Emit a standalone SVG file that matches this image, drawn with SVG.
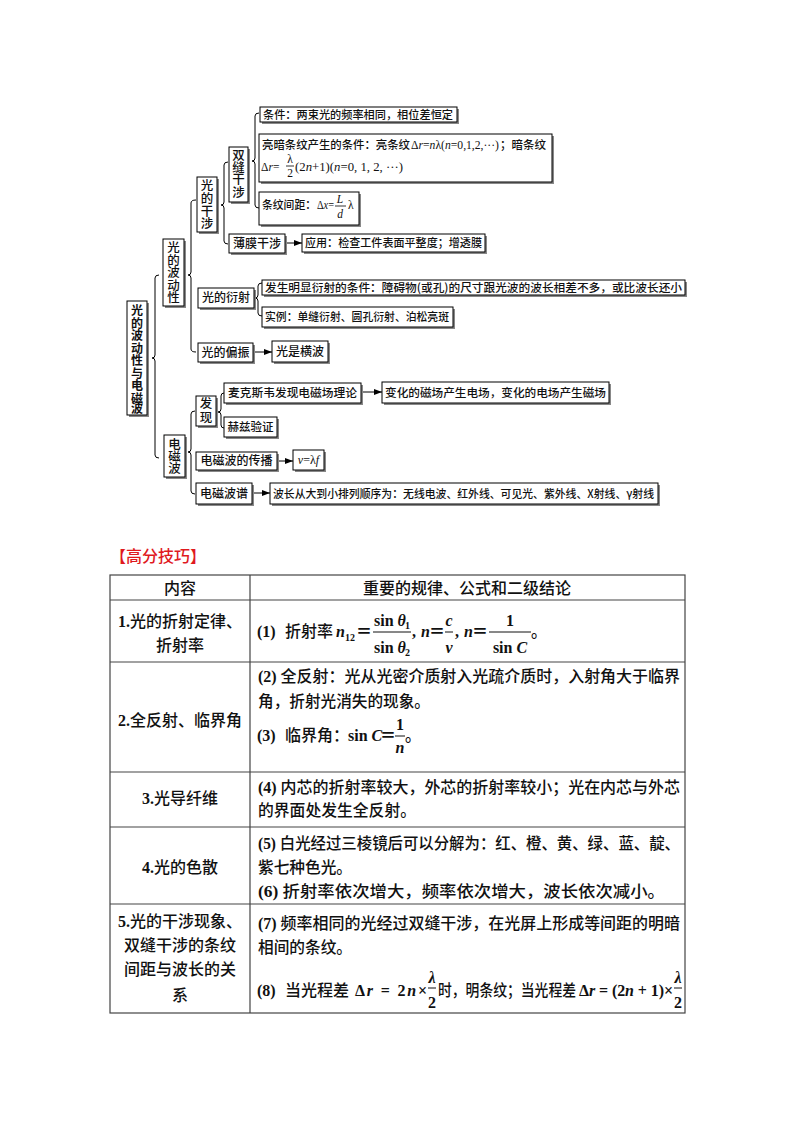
<svg xmlns="http://www.w3.org/2000/svg" width="794" height="1122" viewBox="0 0 794 1122">
<defs>
<marker id="ah" viewBox="0 0 8 6" refX="8" refY="3" markerWidth="8" markerHeight="6" markerUnits="userSpaceOnUse" orient="auto"><path d="M0,0 L8,3 L0,6 Z" fill="#000"/></marker>
</defs>
<style>
.bx{fill:#fff;stroke:#000;stroke-width:1}
.sh{fill:#888}
.tt{font-family:"Noto Sans CJK SC","Liberation Serif",sans-serif;font-size:11.5px;fill:#111;font-weight:500}
.vt{font-family:"Noto Sans CJK SC",sans-serif;font-size:12.5px;fill:#111;text-anchor:middle;font-weight:500}
.m{font-family:"Liberation Serif","Noto Sans CJK SC",serif}
.it{font-style:italic}
.br{fill:none;stroke:#000;stroke-width:1}
.ar{stroke:#000;stroke-width:1;marker-end:url(#ah)}
.fl{stroke:#000;stroke-width:0.8}
.tb{fill:none;stroke:#444;stroke-width:1.2}
.tx{font-family:"Liberation Serif","Noto Sans CJK SC",serif;font-size:16px;fill:#111;font-weight:500}
.b{font-weight:bold}
.c{text-anchor:middle}
.fb{stroke:#111;stroke-width:1}
</style>
<rect width="794" height="1122" fill="#fff"/>

<g id="connectors">
<path class="br" d="M159 275 Q155 275 155 278 L155 355 Q155 358 152 358 Q155 358 155 361 L155 455 Q155 458 159 458"/>
<path class="br" d="M196 200 Q191 200 191 203 L191 272 Q191 275 188 275 Q191 275 191 278 L191 349 Q191 352 196 352"/>
<path class="br" d="M228 162 Q224 162 224 165 L224 202 Q224 205 221 205 Q224 205 224 208 L224 241 Q224 244 228 244"/>
<path class="br" d="M259 113 Q255 113 255 116 L255 158 Q255 161 252 161 Q255 161 255 164 L255 205 Q255 208 259 208"/>
<path class="br" d="M262 283 Q258 283 258 286 L258 295 Q258 298 255 298 Q258 298 258 301 L258 313 Q258 316 262 316"/>
<path class="br" d="M195 411 Q191 411 191 414 L191 449 Q191 452 188 452 Q191 452 191 455 L191 491 Q191 494 195 494"/>
<path class="br" d="M224 393 Q221 393 221 396 L221 409 Q221 412 218 412 Q221 412 221 415 L221 425 Q221 428 224 428"/>
<line class="ar" x1="285" y1="243" x2="302" y2="243"/>
<line class="ar" x1="253" y1="352" x2="272" y2="352"/>
<line class="ar" x1="361" y1="392" x2="382" y2="392"/>
<line class="ar" x1="277" y1="461" x2="293" y2="461"/>
<line class="ar" x1="252" y1="493" x2="270" y2="493"/>
</g>

<g id="root">
<rect class="sh" x="129" y="303" width="20" height="114"/><rect class="bx" x="127" y="301" width="20" height="114"/>
<text class="vt" style="font-weight:bold;font-size:12px"><tspan x="137" y="315">光</tspan><tspan x="137" y="327.5">的</tspan><tspan x="137" y="340">波</tspan><tspan x="137" y="352.5">动</tspan><tspan x="137" y="365">性</tspan><tspan x="137" y="377.5">与</tspan><tspan x="137" y="390">电</tspan><tspan x="137" y="402.5">磁</tspan><tspan x="137" y="415" dy="-2">波</tspan></text>
</g>

<g id="n-bodong">
<rect class="sh" x="165" y="241" width="21" height="67"/><rect class="bx" x="163" y="239" width="21" height="67"/>
<text class="vt"><tspan x="173.5" y="252">光</tspan><tspan x="173.5" y="264.5">的</tspan><tspan x="173.5" y="277">波</tspan><tspan x="173.5" y="289.5">动</tspan><tspan x="173.5" y="302">性</tspan></text>
</g>

<g id="n-ganshe">
<rect class="sh" x="199" y="179" width="20" height="55"/><rect class="bx" x="197" y="177" width="20" height="55"/>
<text class="vt"><tspan x="207" y="190">光</tspan><tspan x="207" y="203">的</tspan><tspan x="207" y="215.5">干</tspan><tspan x="207" y="228">涉</tspan></text>
</g>

<g id="n-shuangfeng">
<rect class="sh" x="231" y="149" width="19" height="55"/><rect class="bx" x="229" y="147" width="19" height="55"/>
<text class="vt"><tspan x="238.5" y="160">双</tspan><tspan x="238.5" y="172">缝</tspan><tspan x="238.5" y="184">干</tspan><tspan x="238.5" y="196.5">涉</tspan></text>
</g>

<g id="n-tiaojian">
<rect class="sh" x="262" y="109" width="197" height="15"/><rect class="bx" x="260" y="107" width="197" height="15"/>
<text class="tt" x="263" y="118.5" textLength="190" lengthAdjust="spacingAndGlyphs">条件：两束光的频率相同，相位差恒定</text>
</g>

<g id="n-liangan">
<rect class="sh" x="261" y="136" width="293" height="48"/><rect class="bx" x="259" y="134" width="293" height="48"/>
<text class="tt" x="262" y="149" textLength="148" lengthAdjust="spacingAndGlyphs">亮暗条纹产生的条件：亮条纹</text>
<text class="tt m" x="411" y="149" textLength="88" lengthAdjust="spacingAndGlyphs">Δ<tspan class="it">r</tspan>=<tspan class="it">n</tspan>λ(<tspan class="it">n</tspan>=0,1,2,···)</text>
<text class="tt" x="500" y="149" textLength="46" lengthAdjust="spacingAndGlyphs">；暗条纹</text>
<text class="tt m" x="261" y="171">Δ<tspan class="it">r</tspan>=</text>
<text class="tt m c" x="290" y="163">λ</text>
<line class="fl" x1="286" y1="166" x2="294" y2="166"/>
<text class="tt m c" x="290" y="177">2</text>
<text class="tt m" x="295" y="171" textLength="108" lengthAdjust="spacingAndGlyphs">(2<tspan class="it">n</tspan>+1)(<tspan class="it">n</tspan>=0, 1, 2, ···)</text>
</g>

<g id="n-jianju">
<rect class="sh" x="261" y="194" width="100" height="33"/><rect class="bx" x="259" y="192" width="100" height="33"/>
<text class="tt" x="262" y="209" textLength="54" lengthAdjust="spacingAndGlyphs">条纹间距：</text>
<text class="tt m" x="317" y="209" textLength="17" lengthAdjust="spacingAndGlyphs">Δ<tspan class="it">x</tspan>=</text>
<text class="tt m it c" x="340" y="203">L</text>
<line class="fl" x1="335" y1="206" x2="346" y2="206"/>
<text class="tt m it c" x="340" y="218">d</text>
<text class="tt m" x="348" y="209">λ</text>
</g>

<g id="n-bomo">
<rect class="sh" x="231" y="236" width="56" height="19"/><rect class="bx" x="229" y="234" width="56" height="19"/>
<text class="tt c" x="257" y="247.5" style="font-size:12px">薄膜干涉</text>
</g>

<g id="n-yingyong">
<rect class="sh" x="304" y="236" width="183" height="18"/><rect class="bx" x="302" y="234" width="183" height="18"/>
<text class="tt" x="305" y="247" textLength="177" lengthAdjust="spacingAndGlyphs">应用：检查工件表面平整度；增透膜</text>
</g>

<g id="n-yanshe">
<rect class="sh" x="200" y="290" width="56" height="20"/><rect class="bx" x="198" y="288" width="56" height="20"/>
<text class="tt c" x="226" y="302" style="font-size:12px">光的衍射</text>
</g>

<g id="n-yanshetiaojian">
<rect class="sh" x="264" y="282" width="423" height="15"/><rect class="bx" x="262" y="280" width="423" height="15"/>
<text class="tt" x="265" y="291.5" textLength="417" lengthAdjust="spacingAndGlyphs">发生明显衍射的条件：障碍物(或孔)的尺寸跟光波的波长相差不多，或比波长还小</text>
</g>

<g id="n-shili">
<rect class="sh" x="264" y="309" width="191" height="20"/><rect class="bx" x="262" y="307" width="191" height="20"/>
<text class="tt" x="265" y="321" textLength="184" lengthAdjust="spacingAndGlyphs">实例：单缝衍射、圆孔衍射、泊松亮斑</text>
</g>

<g id="n-pianzhen">
<rect class="sh" x="200" y="345" width="55" height="19"/><rect class="bx" x="198" y="343" width="55" height="19"/>
<text class="tt c" x="225.5" y="356.5" style="font-size:12px">光的偏振</text>
</g>

<g id="n-hengbo">
<rect class="sh" x="274" y="343" width="56" height="21"/><rect class="bx" x="272" y="341" width="56" height="21"/>
<text class="tt c" x="300" y="355.5" style="font-size:12px">光是横波</text>
</g>

<g id="n-diancibo">
<rect class="sh" x="166" y="437" width="21" height="42"/><rect class="bx" x="164" y="435" width="21" height="42"/>
<text class="vt"><tspan x="174.5" y="449">电</tspan><tspan x="174.5" y="461">磁</tspan><tspan x="174.5" y="473">波</tspan></text>
</g>

<g id="n-faxian">
<rect class="sh" x="198" y="398" width="20" height="30"/><rect class="bx" x="196" y="396" width="20" height="30"/>
<text class="vt"><tspan x="206" y="408">发</tspan><tspan x="206" y="421.5">现</tspan></text>
</g>

<g id="n-maikesi">
<rect class="sh" x="226" y="385" width="137" height="20"/><rect class="bx" x="224" y="383" width="137" height="20"/>
<text class="tt" x="228" y="397" textLength="129" lengthAdjust="spacingAndGlyphs">麦克斯韦发现电磁场理论</text>
</g>

<g id="n-bianhua">
<rect class="sh" x="384" y="384" width="227" height="21"/><rect class="bx" x="382" y="382" width="227" height="21"/>
<text class="tt" x="385" y="396.5" textLength="221" lengthAdjust="spacingAndGlyphs">变化的磁场产生电场，变化的电场产生磁场</text>
</g>

<g id="n-hezi">
<rect class="sh" x="226" y="419" width="53" height="20"/><rect class="bx" x="224" y="417" width="53" height="20"/>
<text class="tt c" x="250.5" y="431">赫兹验证</text>
</g>

<g id="n-chuanbo">
<rect class="sh" x="198" y="454" width="81" height="18"/><rect class="bx" x="196" y="452" width="81" height="18"/>
<text class="tt c" x="236.5" y="465" style="font-size:12px">电磁波的传播</text>
</g>

<g id="n-vlf">
<rect class="sh" x="295" y="452" width="31" height="20"/><rect class="bx" x="293" y="450" width="31" height="20"/>
<text class="tt m c" x="308.5" y="464" style="font-size:12px"><tspan class="it">v</tspan>=λ<tspan class="it">f</tspan></text>
</g>

<g id="n-pu">
<rect class="sh" x="198" y="485" width="56" height="21"/><rect class="bx" x="196" y="483" width="56" height="21"/>
<text class="tt c" x="224" y="497.5" style="font-size:12px">电磁波谱</text>
</g>

<g id="n-bochang">
<rect class="sh" x="272" y="485" width="388" height="21"/><rect class="bx" x="270" y="483" width="388" height="21"/>
<text class="tt" x="273" y="497.5" textLength="381" lengthAdjust="spacingAndGlyphs">波长从大到小排列顺序为：无线电波、红外线、可见光、紫外线、X射线、γ射线</text>
</g>

<g id="table">
<text x="110" y="562" style="font-family:'Noto Sans CJK SC',sans-serif;font-size:16px;fill:#e0191e;font-weight:500">【高分技巧】</text>
<rect class="tb" x="110" y="575" width="575" height="438"/>
<line class="tb" x1="250" y1="575" x2="250" y2="1013"/>
<line class="tb" x1="110" y1="600" x2="685" y2="600"/>
<line class="tb" x1="110" y1="662" x2="685" y2="662"/>
<line class="tb" x1="110" y1="772" x2="685" y2="772"/>
<line class="tb" x1="110" y1="827" x2="685" y2="827"/>
<line class="tb" x1="110" y1="904" x2="685" y2="904"/>

<text class="tx c" x="180" y="594">内容</text>
<text class="tx c" x="467" y="594">重要的规律、公式和二级结论</text>

<text class="tx c" x="180" y="627"><tspan class="b">1.</tspan>光的折射定律、</text>
<text class="tx c" x="180" y="651">折射率</text>
<text class="tx b" x="257" y="637">(1)</text>
<text class="tx" x="285" y="637">折射率</text>
<text class="tx b it" x="336" y="637">n</text>
<text class="tx b" x="345" y="641" style="font-size:10px">12</text>
<text class="tx b" x="356" y="637">＝</text>
<text class="tx b" x="374" y="626">sin <tspan class="it">θ</tspan></text>
<text class="tx b" x="405" y="629" style="font-size:10px">1</text>
<line class="fb" x1="373" y1="632" x2="411" y2="632"/>
<text class="tx b" x="374" y="653">sin <tspan class="it">θ</tspan></text>
<text class="tx b" x="405" y="656" style="font-size:10px">2</text>
<text class="tx b" x="412" y="637">,</text>
<text class="tx b it" x="421" y="637">n</text>
<text class="tx b" x="429" y="637">＝</text>
<text class="tx b it c" x="449" y="626">c</text>
<line class="fb" x1="445" y1="632" x2="453" y2="632"/>
<text class="tx b it c" x="449" y="653">v</text>
<text class="tx b" x="455" y="637">,</text>
<text class="tx b it" x="464" y="637">n</text>
<text class="tx b" x="472" y="637">＝</text>
<text class="tx b c" x="510" y="626">1</text>
<line class="fb" x1="489" y1="632" x2="531" y2="632"/>
<text class="tx b c" x="510" y="653">sin <tspan class="it">C</tspan></text>
<text class="tx" x="531" y="637">。</text>

<text class="tx c" x="180" y="726"><tspan class="b">2.</tspan>全反射、临界角</text>
<text class="tx" x="258" y="682" textLength="422" lengthAdjust="spacingAndGlyphs"><tspan class="b">(2)</tspan> 全反射：光从光密介质射入光疏介质时，入射角大于临界</text>
<text class="tx" x="258" y="707" textLength="172" lengthAdjust="spacingAndGlyphs">角，折射光消失的现象。</text>
<text class="tx b" x="257" y="741">(3)</text>
<text class="tx" x="285" y="741">临界角：</text>
<text class="tx b" x="348" y="741">sin <tspan class="it">C</tspan></text>
<text class="tx b" x="380" y="741">＝</text>
<text class="tx b c" x="400" y="730">1</text>
<line class="fb" x1="395" y1="736" x2="405" y2="736"/>
<text class="tx b it c" x="400" y="753">n</text>
<text class="tx" x="405" y="741">。</text>

<text class="tx c" x="180" y="804"><tspan class="b">3.</tspan>光导纤维</text>
<text class="tx" x="258" y="793" textLength="422" lengthAdjust="spacingAndGlyphs"><tspan class="b">(4)</tspan> 内芯的折射率较大，外芯的折射率较小；光在内芯与外芯</text>
<text class="tx" x="258" y="816" textLength="158" lengthAdjust="spacingAndGlyphs">的界面处发生全反射。</text>

<text class="tx c" x="180" y="873"><tspan class="b">4.</tspan>光的色散</text>
<text class="tx" x="258" y="849" textLength="422" lengthAdjust="spacingAndGlyphs"><tspan class="b">(5)</tspan> 白光经过三棱镜后可以分解为：红、橙、黄、绿、蓝、靛、</text>
<text class="tx" x="258" y="873" textLength="94" lengthAdjust="spacingAndGlyphs">紫七种色光。</text>
<text class="tx" x="258" y="897" textLength="407" lengthAdjust="spacingAndGlyphs"><tspan class="b">(6)</tspan> 折射率依次增大，频率依次增大，波长依次减小。</text>

<text class="tx c" x="180" y="927"><tspan class="b">5.</tspan>光的干涉现象、</text>
<text class="tx c" x="180" y="951">双缝干涉的条纹</text>
<text class="tx c" x="180" y="975">间距与波长的关</text>
<text class="tx c" x="180" y="1001">系</text>
<text class="tx" x="258" y="929" textLength="422" lengthAdjust="spacingAndGlyphs"><tspan class="b">(7)</tspan> 频率相同的光经过双缝干涉，在光屏上形成等间距的明暗</text>
<text class="tx" x="258" y="953" textLength="94" lengthAdjust="spacingAndGlyphs">相间的条纹。</text>
<text class="tx b" x="257" y="996">(8)</text>
<text class="tx" x="285" y="996">当光程差</text>
<text class="tx b" x="355" y="996" textLength="72" lengthAdjust="spacing">Δ<tspan class="it">r</tspan> = 2<tspan class="it">n</tspan>×</text>
<text class="tx b it c" x="432" y="983">λ</text>
<line class="fb" x1="428" y1="988" x2="436" y2="988"/>
<text class="tx b c" x="432" y="1008">2</text>
<text class="tx" x="438" y="996" textLength="138" lengthAdjust="spacingAndGlyphs">时，明条纹；当光程差</text>
<text class="tx b" x="579" y="996" textLength="94" lengthAdjust="spacing">Δ<tspan class="it">r</tspan> = (2<tspan class="it">n</tspan> + 1)×</text>
<text class="tx b it c" x="678" y="983">λ</text>
<line class="fb" x1="674" y1="988" x2="682" y2="988"/>
<text class="tx b c" x="678" y="1008">2</text>
</g>
</svg>
